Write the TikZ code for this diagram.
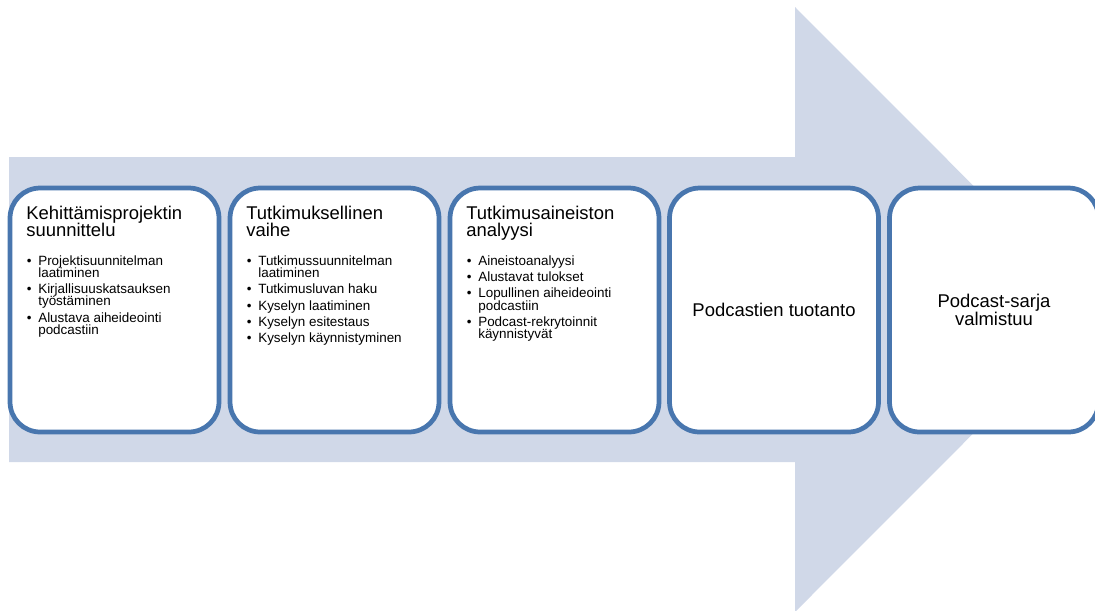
\documentclass[tikz,border=0pt]{standalone}
\usepackage{fontspec}
\setmainfont{Liberation Sans}
\usepackage{tikz}
\usetikzlibrary{positioning}

\definecolor{arrowfill}{RGB}{208,216,232}
\definecolor{boxline}{RGB}{72,118,174}

\newenvironment{phaselist}{%
  \begin{list}{\textbullet}{%
    \setlength{\topsep}{9pt}\setlength{\partopsep}{0pt}%
    \setlength{\itemsep}{2.3pt}\setlength{\parsep}{0pt}%
    \setlength{\leftmargin}{6.8pt}\setlength{\labelwidth}{3pt}%
    \setlength{\labelsep}{3.8pt}}%
  \fontsize{7.65}{7}\selectfont
  \setlength{\spaceskip}{0pt}\setlength{\xspaceskip}{0pt}%
  \setlength{\lineskiplimit}{-10pt}}{\end{list}}

\begin{document}
\begin{tikzpicture}[x=0.02cm, y=-0.02cm,
    stepbox/.style={rectangle, rounded corners=0.6cm, draw=boxline, fill=white,
      line width=2.7pt, minimum width=4.18cm, minimum height=4.88cm,
      outer sep=0pt, inner sep=0pt, align=center,
      font=\fontsize{10.5}{10.2}\selectfont\setlength{\lineskiplimit}{-10pt}},
    steptext/.style={anchor=base west, inner sep=0pt, text width=3.7cm,
      align=left, font=\fontsize{10.5}{10.2}\selectfont\setlength{\parskip}{0pt}\setlength{\lineskiplimit}{-10pt}}]
				\clip (0,0) rectangle (1095,610);
				
				% big arrow behind the phases
				\fill[arrowfill] (9,157) -- (795,157) -- (795,7) -- (1097,309.5)
				  -- (795,612) -- (795,462) -- (9,462) -- cycle;
				
				\node[stepbox] (plan) at (114.5,310) {};
				\node[stepbox] (research) at (334.5,310) {};
				\node[stepbox] (analysis) at (554.5,310) {};
				\node[stepbox] (production) at (774,310) {Podcastien tuotanto};
				\node[stepbox] (series) at (994,310) {Podcast-sarja\\valmistuu};
				
				\node[steptext] (plantext) at (26,219) {Kehittämisprojektin\\suunnittelu
				  \begin{phaselist}
				  \item Projektisuunnitelman\\laatiminen
				  \item Kirjallisuuskatsauksen\\työstäminen
				  \item Alustava aiheideointi\\podcastiin
				  \end{phaselist}};
				\node[steptext] (researchtext) at (246,219) {Tutkimuksellinen\\vaihe
				  \begin{phaselist}
				  \item Tutkimussuunnitelman\\laatiminen
				  \item Tutkimusluvan haku
				  \item Kyselyn laatiminen
				  \item Kyselyn esitestaus
				  \item Kyselyn käynnistyminen
				  \end{phaselist}};
				\node[steptext] (analysistext) at (466,219) {Tutkimusaineiston\\analyysi
				  \begin{phaselist}
				  \item Aineistoanalyysi
				  \item Alustavat tulokset
				  \item Lopullinen aiheideointi\\podcastiin
				  \item Podcast-rekrytoinnit\\käynnistyvät
				  \end{phaselist}};
			\end{tikzpicture}
\end{document}
